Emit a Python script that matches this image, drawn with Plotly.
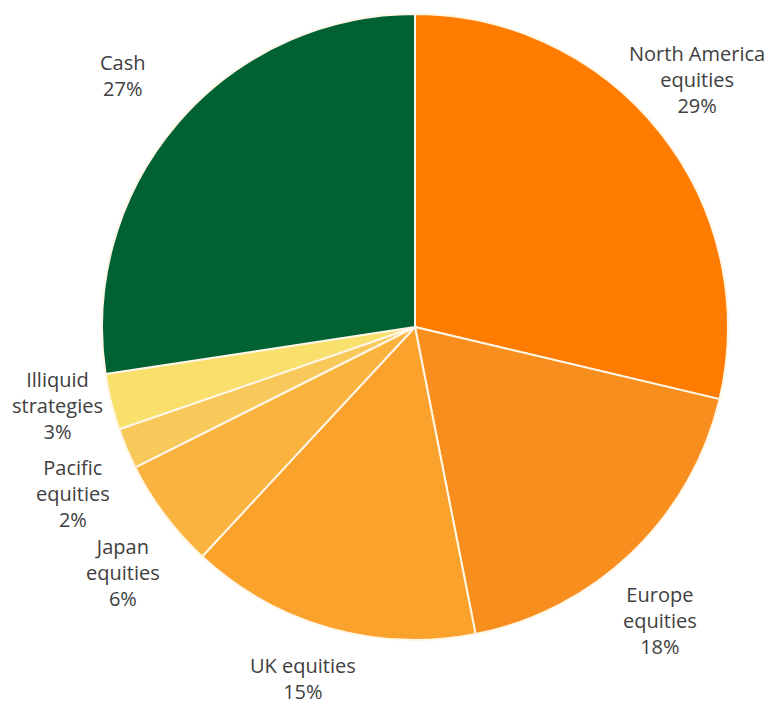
import plotly.graph_objects as go

labels = ["North America<br>equities", "Europe<br>equities", "UK equities", "Japan<br>equities",
          "Pacific<br>equities", "Illiquid<br>strategies", "Cash"]
values = [28.7, 18.2, 15.0, 5.7, 2.1, 2.9, 27.4]
colors = ["#FF7C00", "#F78E1E", "#FBA22D", "#FBB340", "#F9C85A", "#F9E06C", "#006233"]

# label block centres in pixels (layout only)
label_px = [(697, 79), (660, 620), (303, 678), (123, 572), (73, 493), (57, 405), (123, 75)]

W, H = 771, 705
fig = go.Figure(go.Pie(
    labels=labels, values=values, sort=False, direction="clockwise", rotation=0,
    marker=dict(colors=colors, line=dict(color="#FFF6E6", width=2)),
    textinfo="none", automargin=False,
    domain=dict(x=[102/W, 728/W], y=[65/H, 691/H]),
    showlegend=False, hoverinfo="none",
))
total = sum(values)
for lab, v, (px, py) in zip(labels, values, label_px):
    fig.add_annotation(
        x=px / W, y=1 - py / H, xref="paper", yref="paper",
        text=f"{lab}<br>{round(100 * v / total)}%", showarrow=False,
        xanchor="center", yanchor="middle", align="center",
        font=dict(family="Open Sans", size=20, color="#404040"),
    )
fig.update_layout(width=W, height=H, margin=dict(l=0, r=0, t=0, b=0),
                  paper_bgcolor="white", plot_bgcolor="white")
fig.write_html("out.html")
